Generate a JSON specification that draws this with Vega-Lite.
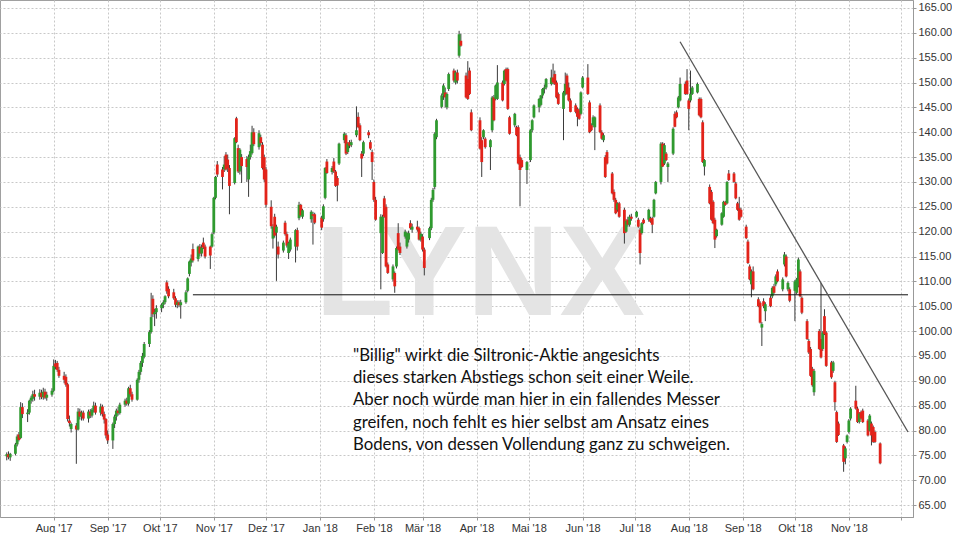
{
"$schema": "https://vega.github.io/schema/vega-lite/v6.json",
"width": 913,
"height": 517,
"padding": {"left": 0, "top": 0, "right": 0, "bottom": 0},
"background": "white",
"config": {"view": {"stroke": "#a0a0a0"}},
"datasets": {
"candles": [
{"d":"2017-07-05","o":74.8,"h":75.6,"l":74.0,"c":75.2},
{"d":"2017-07-06","o":75.2,"h":75.8,"l":74.2,"c":74.6},
{"d":"2017-07-07","o":74.6,"h":75.5,"l":73.9,"c":75.3},
{"d":"2017-07-10","o":75.3,"h":77.5,"l":75.0,"c":77.2},
{"d":"2017-07-11","o":77.2,"h":79.2,"l":76.8,"c":78.8},
{"d":"2017-07-12","o":79.2,"h":79.7,"l":77.8,"c":78.1},
{"d":"2017-07-13","o":78.5,"h":85.7,"l":78.3,"c":84.7},
{"d":"2017-07-14","o":84.7,"h":85.5,"l":82.5,"c":83.3},
{"d":"2017-07-17","o":83.3,"h":84.3,"l":81.7,"c":83.6},
{"d":"2017-07-18","o":83.6,"h":86.2,"l":83.2,"c":86.0},
{"d":"2017-07-19","o":86.0,"h":87.0,"l":85.4,"c":86.6},
{"d":"2017-07-20","o":86.4,"h":88.0,"l":85.8,"c":87.3},
{"d":"2017-07-21","o":87.3,"h":88.2,"l":86.0,"c":86.8},
{"d":"2017-07-24","o":86.8,"h":88.3,"l":86.2,"c":87.6},
{"d":"2017-07-25","o":87.6,"h":88.2,"l":86.3,"c":86.7},
{"d":"2017-07-26","o":86.7,"h":88.6,"l":86.2,"c":87.8},
{"d":"2017-07-27","o":87.8,"h":88.4,"l":86.3,"c":86.6},
{"d":"2017-07-28","o":86.6,"h":87.8,"l":86.0,"c":87.2},
{"d":"2017-07-31","o":87.2,"h":88.5,"l":86.8,"c":88.0},
{"d":"2017-08-01","o":88.0,"h":94.3,"l":87.7,"c":93.0},
{"d":"2017-08-02","o":93.5,"h":94.2,"l":92.3,"c":92.8},
{"d":"2017-08-03","o":93.6,"h":94.0,"l":91.8,"c":92.2},
{"d":"2017-08-04","o":92.2,"h":92.8,"l":90.6,"c":91.0},
{"d":"2017-08-07","o":91.0,"h":91.8,"l":89.5,"c":90.2},
{"d":"2017-08-08","o":90.8,"h":91.3,"l":88.8,"c":89.2},
{"d":"2017-08-09","o":89.3,"h":89.6,"l":81.8,"c":82.3},
{"d":"2017-08-10","o":82.0,"h":83.0,"l":80.8,"c":81.5},
{"d":"2017-08-11","o":80.3,"h":81.6,"l":79.6,"c":81.3},
{"d":"2017-08-14","o":81.0,"h":81.5,"l":73.3,"c":80.2},
{"d":"2017-08-15","o":80.2,"h":84.5,"l":80.0,"c":83.8},
{"d":"2017-08-16","o":83.8,"h":84.4,"l":82.2,"c":82.8},
{"d":"2017-08-17","o":82.8,"h":84.0,"l":82.0,"c":83.6},
{"d":"2017-08-18","o":83.6,"h":84.0,"l":82.0,"c":82.4},
{"d":"2017-08-21","o":82.4,"h":84.2,"l":81.6,"c":83.8},
{"d":"2017-08-22","o":83.8,"h":84.3,"l":82.5,"c":83.0},
{"d":"2017-08-23","o":83.0,"h":84.5,"l":82.6,"c":84.2},
{"d":"2017-08-24","o":84.2,"h":85.8,"l":83.6,"c":85.0},
{"d":"2017-08-25","o":85.0,"h":85.6,"l":83.2,"c":83.6},
{"d":"2017-08-28","o":83.6,"h":85.4,"l":83.0,"c":84.8},
{"d":"2017-08-29","o":84.8,"h":85.2,"l":82.8,"c":83.3},
{"d":"2017-08-30","o":83.3,"h":83.8,"l":81.4,"c":82.2},
{"d":"2017-08-31","o":82.3,"h":82.5,"l":78.4,"c":79.0},
{"d":"2017-09-01","o":79.2,"h":80.0,"l":77.3,"c":78.0},
{"d":"2017-09-04","o":78.0,"h":81.6,"l":76.3,"c":81.3},
{"d":"2017-09-05","o":81.3,"h":83.2,"l":80.5,"c":82.8},
{"d":"2017-09-06","o":82.8,"h":84.4,"l":82.0,"c":84.0},
{"d":"2017-09-07","o":84.0,"h":84.8,"l":83.0,"c":83.5},
{"d":"2017-09-08","o":83.5,"h":85.6,"l":83.2,"c":85.2},
{"d":"2017-09-11","o":85.2,"h":86.4,"l":84.8,"c":86.0},
{"d":"2017-09-12","o":86.0,"h":86.6,"l":85.0,"c":85.4},
{"d":"2017-09-13","o":85.4,"h":88.8,"l":85.0,"c":88.5},
{"d":"2017-09-14","o":88.5,"h":89.2,"l":86.8,"c":87.3},
{"d":"2017-09-15","o":87.3,"h":87.8,"l":85.8,"c":86.2},
{"d":"2017-09-18","o":86.2,"h":90.5,"l":86.0,"c":90.2},
{"d":"2017-09-19","o":90.2,"h":92.2,"l":89.6,"c":91.8},
{"d":"2017-09-20","o":91.8,"h":94.0,"l":91.2,"c":93.6},
{"d":"2017-09-21","o":93.6,"h":95.6,"l":92.8,"c":95.0},
{"d":"2017-09-22","o":94.8,"h":97.8,"l":94.5,"c":97.4},
{"d":"2017-09-25","o":97.4,"h":100.2,"l":96.8,"c":99.8},
{"d":"2017-09-26","o":99.8,"h":107.7,"l":99.5,"c":102.8},
{"d":"2017-09-27","o":106.5,"h":107.2,"l":102.8,"c":103.4},
{"d":"2017-09-28","o":103.4,"h":104.5,"l":101.0,"c":103.8},
{"d":"2017-09-29","o":103.8,"h":105.2,"l":102.5,"c":104.6},
{"d":"2017-10-02","o":104.6,"h":105.6,"l":103.8,"c":105.3},
{"d":"2017-10-03","o":105.3,"h":106.2,"l":104.6,"c":105.8},
{"d":"2017-10-04","o":105.8,"h":107.2,"l":105.4,"c":107.0},
{"d":"2017-10-05","o":109.8,"h":110.2,"l":107.5,"c":108.0},
{"d":"2017-10-06","o":108.5,"h":109.0,"l":106.6,"c":107.0},
{"d":"2017-10-09","o":107.8,"h":108.5,"l":106.3,"c":106.6},
{"d":"2017-10-10","o":106.6,"h":107.0,"l":104.8,"c":105.3},
{"d":"2017-10-11","o":105.3,"h":106.2,"l":104.6,"c":105.8},
{"d":"2017-10-12","o":105.8,"h":106.2,"l":104.8,"c":105.2},
{"d":"2017-10-13","o":105.2,"h":106.3,"l":102.5,"c":105.8},
{"d":"2017-10-16","o":105.8,"h":108.2,"l":105.5,"c":107.8},
{"d":"2017-10-17","o":108.1,"h":110.8,"l":107.8,"c":110.6},
{"d":"2017-10-18","o":111.5,"h":114.2,"l":111.0,"c":114.0},
{"d":"2017-10-19","o":113.8,"h":115.4,"l":113.0,"c":114.6},
{"d":"2017-10-20","o":116.5,"h":117.6,"l":113.8,"c":114.2},
{"d":"2017-10-23","o":114.5,"h":117.2,"l":114.0,"c":117.0},
{"d":"2017-10-24","o":117.0,"h":117.5,"l":115.0,"c":115.6},
{"d":"2017-10-25","o":115.6,"h":117.4,"l":115.0,"c":116.8},
{"d":"2017-10-26","o":117.8,"h":118.8,"l":116.5,"c":116.8},
{"d":"2017-10-27","o":117.0,"h":117.4,"l":114.6,"c":115.0},
{"d":"2017-10-30","o":117.0,"h":117.2,"l":112.5,"c":115.2},
{"d":"2017-10-31","o":117.0,"h":119.8,"l":116.8,"c":119.5},
{"d":"2017-11-01","o":119.8,"h":127.0,"l":119.5,"c":126.8},
{"d":"2017-11-02","o":126.8,"h":131.2,"l":126.5,"c":131.0},
{"d":"2017-11-03","o":133.5,"h":134.2,"l":131.0,"c":131.5},
{"d":"2017-11-06","o":132.5,"h":133.0,"l":128.5,"c":131.0},
{"d":"2017-11-07","o":132.5,"h":135.2,"l":132.0,"c":133.5},
{"d":"2017-11-08","o":135.5,"h":136.0,"l":132.3,"c":132.5},
{"d":"2017-11-09","o":134.5,"h":135.5,"l":132.0,"c":132.8},
{"d":"2017-11-10","o":132.8,"h":133.4,"l":123.5,"c":129.2},
{"d":"2017-11-13","o":129.8,"h":139.0,"l":129.5,"c":138.8},
{"d":"2017-11-14","o":142.8,"h":143.1,"l":137.8,"c":138.0},
{"d":"2017-11-15","o":136.8,"h":137.5,"l":131.8,"c":132.1},
{"d":"2017-11-16","o":132.1,"h":136.8,"l":131.5,"c":136.5},
{"d":"2017-11-17","o":135.0,"h":135.6,"l":129.8,"c":133.2},
{"d":"2017-11-20","o":134.6,"h":135.2,"l":130.0,"c":133.0},
{"d":"2017-11-21","o":130.5,"h":135.5,"l":127.0,"c":135.0},
{"d":"2017-11-22","o":135.0,"h":137.5,"l":134.5,"c":136.2},
{"d":"2017-11-23","o":135.8,"h":141.3,"l":135.5,"c":140.0},
{"d":"2017-11-24","o":140.0,"h":140.8,"l":137.2,"c":137.6},
{"d":"2017-11-27","o":137.0,"h":140.4,"l":136.5,"c":139.8},
{"d":"2017-11-28","o":139.0,"h":139.5,"l":137.3,"c":137.8},
{"d":"2017-11-29","o":137.5,"h":138.0,"l":132.5,"c":132.8},
{"d":"2017-11-30","o":135.0,"h":135.5,"l":130.0,"c":130.5},
{"d":"2017-12-01","o":132.5,"h":133.0,"l":124.8,"c":125.4},
{"d":"2017-12-04","o":125.0,"h":126.3,"l":120.6,"c":121.1},
{"d":"2017-12-05","o":118.6,"h":121.5,"l":116.6,"c":121.0},
{"d":"2017-12-06","o":123.0,"h":123.6,"l":118.8,"c":119.2},
{"d":"2017-12-07","o":119.8,"h":121.4,"l":110.1,"c":121.0},
{"d":"2017-12-08","o":117.0,"h":118.0,"l":114.6,"c":115.4},
{"d":"2017-12-11","o":116.2,"h":118.2,"l":115.8,"c":117.8},
{"d":"2017-12-12","o":121.8,"h":122.2,"l":119.2,"c":119.5},
{"d":"2017-12-13","o":119.5,"h":120.0,"l":116.8,"c":117.2},
{"d":"2017-12-14","o":115.7,"h":118.0,"l":114.5,"c":117.7},
{"d":"2017-12-15","o":116.4,"h":118.8,"l":116.0,"c":118.4},
{"d":"2017-12-18","o":117.0,"h":120.5,"l":113.8,"c":120.3},
{"d":"2017-12-19","o":120.3,"h":120.8,"l":116.2,"c":117.0},
{"d":"2017-12-20","o":122.7,"h":126.0,"l":122.3,"c":125.4},
{"d":"2017-12-21","o":125.4,"h":125.6,"l":123.0,"c":123.3},
{"d":"2017-12-22","o":123.0,"h":124.6,"l":122.6,"c":124.3},
{"d":"2017-12-27","o":122.5,"h":124.3,"l":121.8,"c":124.0},
{"d":"2017-12-28","o":123.5,"h":124.0,"l":117.4,"c":123.2},
{"d":"2017-12-29","o":123.5,"h":123.8,"l":121.5,"c":121.8},
{"d":"2018-01-02","o":122.8,"h":123.2,"l":120.3,"c":120.8},
{"d":"2018-01-03","o":122.5,"h":125.5,"l":122.0,"c":125.1},
{"d":"2018-01-04","o":126.8,"h":133.0,"l":126.5,"c":132.8},
{"d":"2018-01-05","o":134.1,"h":134.6,"l":131.6,"c":131.8},
{"d":"2018-01-08","o":132.0,"h":133.2,"l":131.5,"c":132.8},
{"d":"2018-01-09","o":134.1,"h":134.8,"l":131.8,"c":132.1},
{"d":"2018-01-10","o":132.1,"h":132.4,"l":129.0,"c":129.2},
{"d":"2018-01-11","o":130.8,"h":131.2,"l":126.1,"c":129.3},
{"d":"2018-01-12","o":133.7,"h":137.9,"l":133.4,"c":137.7},
{"d":"2018-01-15","o":138.4,"h":140.0,"l":137.8,"c":139.7},
{"d":"2018-01-16","o":139.4,"h":139.8,"l":135.4,"c":135.7},
{"d":"2018-01-17","o":136.0,"h":138.0,"l":135.6,"c":137.7},
{"d":"2018-01-18","o":138.0,"h":138.4,"l":136.8,"c":137.3},
{"d":"2018-01-19","o":137.4,"h":138.5,"l":137.0,"c":138.0},
{"d":"2018-01-22","o":139.4,"h":145.2,"l":139.0,"c":140.4},
{"d":"2018-01-23","o":143.1,"h":144.0,"l":140.8,"c":141.0},
{"d":"2018-01-24","o":141.4,"h":141.8,"l":138.2,"c":138.4},
{"d":"2018-01-25","o":135.7,"h":136.2,"l":131.0,"c":134.7},
{"d":"2018-01-26","o":135.7,"h":138.3,"l":135.2,"c":138.0},
{"d":"2018-01-29","o":140.0,"h":140.4,"l":138.8,"c":139.4},
{"d":"2018-01-30","o":138.0,"h":138.4,"l":136.4,"c":136.7},
{"d":"2018-01-31","o":136.0,"h":136.5,"l":130.4,"c":134.0},
{"d":"2018-02-01","o":130.0,"h":130.5,"l":126.0,"c":126.4},
{"d":"2018-02-02","o":126.4,"h":127.0,"l":122.2,"c":122.4},
{"d":"2018-02-05","o":119.7,"h":123.5,"l":108.4,"c":123.0},
{"d":"2018-02-06","o":115.7,"h":123.4,"l":115.5,"c":123.0},
{"d":"2018-02-07","o":126.7,"h":127.2,"l":122.8,"c":123.0},
{"d":"2018-02-08","o":125.0,"h":125.5,"l":112.8,"c":113.0},
{"d":"2018-02-09","o":113.4,"h":113.8,"l":111.5,"c":111.7},
{"d":"2018-02-12","o":110.4,"h":113.4,"l":110.0,"c":113.0},
{"d":"2018-02-13","o":111.7,"h":112.0,"l":107.7,"c":109.0},
{"d":"2018-02-14","o":113.0,"h":117.0,"l":112.6,"c":116.7},
{"d":"2018-02-15","o":119.7,"h":121.7,"l":116.2,"c":116.4},
{"d":"2018-02-16","o":117.0,"h":117.8,"l":115.3,"c":115.7},
{"d":"2018-02-19","o":119.0,"h":120.4,"l":118.6,"c":120.0},
{"d":"2018-02-20","o":117.0,"h":120.0,"l":116.6,"c":119.7},
{"d":"2018-02-21","o":118.4,"h":120.2,"l":117.8,"c":119.7},
{"d":"2018-02-22","o":121.7,"h":122.3,"l":120.4,"c":120.7},
{"d":"2018-02-23","o":120.4,"h":121.6,"l":119.8,"c":121.0},
{"d":"2018-02-26","o":121.0,"h":122.2,"l":120.0,"c":120.4},
{"d":"2018-02-27","o":120.7,"h":121.0,"l":118.2,"c":118.4},
{"d":"2018-02-28","o":118.4,"h":120.0,"l":118.0,"c":119.6},
{"d":"2018-03-01","o":119.0,"h":119.5,"l":116.0,"c":116.4},
{"d":"2018-03-02","o":116.4,"h":116.8,"l":111.2,"c":112.7},
{"d":"2018-03-05","o":118.7,"h":121.0,"l":118.3,"c":120.7},
{"d":"2018-03-06","o":120.7,"h":126.8,"l":120.3,"c":126.4},
{"d":"2018-03-07","o":126.4,"h":128.8,"l":126.0,"c":128.4},
{"d":"2018-03-08","o":129.0,"h":140.0,"l":128.5,"c":139.7},
{"d":"2018-03-09","o":139.0,"h":142.7,"l":138.6,"c":142.4},
{"d":"2018-03-12","o":145.1,"h":147.8,"l":144.8,"c":147.4},
{"d":"2018-03-13","o":147.4,"h":149.8,"l":146.5,"c":149.4},
{"d":"2018-03-14","o":148.0,"h":149.0,"l":145.0,"c":147.0},
{"d":"2018-03-15","o":145.0,"h":148.0,"l":144.6,"c":147.7},
{"d":"2018-03-16","o":148.7,"h":152.0,"l":148.3,"c":151.7},
{"d":"2018-03-19","o":152.4,"h":152.8,"l":150.0,"c":150.4},
{"d":"2018-03-20","o":150.0,"h":152.4,"l":149.6,"c":152.0},
{"d":"2018-03-21","o":152.0,"h":152.6,"l":149.8,"c":150.4},
{"d":"2018-03-22","o":155.4,"h":160.4,"l":155.0,"c":159.7},
{"d":"2018-03-23","o":158.4,"h":159.8,"l":157.2,"c":157.4},
{"d":"2018-03-26","o":151.4,"h":152.0,"l":146.8,"c":147.0},
{"d":"2018-03-27","o":150.7,"h":154.3,"l":146.5,"c":146.7},
{"d":"2018-03-28","o":152.4,"h":153.0,"l":147.5,"c":147.7},
{"d":"2018-03-29","o":144.0,"h":144.6,"l":140.2,"c":140.4},
{"d":"2018-04-03","o":142.4,"h":143.0,"l":136.5,"c":136.7},
{"d":"2018-04-04","o":138.4,"h":139.0,"l":131.0,"c":134.0},
{"d":"2018-04-05","o":139.0,"h":140.6,"l":138.6,"c":140.4},
{"d":"2018-04-06","o":138.7,"h":139.0,"l":136.7,"c":137.0},
{"d":"2018-04-09","o":137.0,"h":138.6,"l":132.4,"c":138.4},
{"d":"2018-04-10","o":140.4,"h":147.3,"l":140.0,"c":147.0},
{"d":"2018-04-11","o":147.0,"h":147.5,"l":142.2,"c":142.4},
{"d":"2018-04-12","o":146.7,"h":149.6,"l":146.4,"c":149.4},
{"d":"2018-04-13","o":146.7,"h":153.5,"l":146.5,"c":150.0},
{"d":"2018-04-16","o":150.0,"h":150.4,"l":146.2,"c":146.4},
{"d":"2018-04-17","o":149.7,"h":152.6,"l":149.4,"c":152.4},
{"d":"2018-04-18","o":152.7,"h":153.0,"l":150.2,"c":150.4},
{"d":"2018-04-19","o":152.7,"h":153.0,"l":144.5,"c":144.7},
{"d":"2018-04-20","o":143.0,"h":143.3,"l":139.5,"c":139.7},
{"d":"2018-04-23","o":141.4,"h":143.9,"l":141.0,"c":143.7},
{"d":"2018-04-24","o":141.0,"h":141.3,"l":139.2,"c":139.4},
{"d":"2018-04-25","o":141.0,"h":141.4,"l":133.5,"c":133.7},
{"d":"2018-04-26","o":135.0,"h":135.5,"l":125.1,"c":132.4},
{"d":"2018-04-27","o":134.4,"h":134.8,"l":132.8,"c":133.0},
{"d":"2018-04-30","o":132.4,"h":134.2,"l":129.6,"c":134.0},
{"d":"2018-05-02","o":134.4,"h":140.6,"l":134.0,"c":140.4},
{"d":"2018-05-03","o":140.4,"h":142.6,"l":140.0,"c":142.4},
{"d":"2018-05-04","o":143.0,"h":145.6,"l":142.8,"c":145.4},
{"d":"2018-05-07","o":145.0,"h":146.9,"l":144.0,"c":146.7},
{"d":"2018-05-08","o":145.5,"h":147.5,"l":145.2,"c":147.4},
{"d":"2018-05-09","o":147.4,"h":148.9,"l":146.8,"c":148.7},
{"d":"2018-05-10","o":148.7,"h":149.6,"l":147.8,"c":149.0},
{"d":"2018-05-11","o":149.0,"h":150.9,"l":148.6,"c":150.7},
{"d":"2018-05-14","o":149.7,"h":152.6,"l":149.4,"c":151.0},
{"d":"2018-05-15","o":151.0,"h":153.8,"l":149.6,"c":150.0},
{"d":"2018-05-16","o":151.7,"h":152.4,"l":149.5,"c":149.7},
{"d":"2018-05-17","o":150.0,"h":150.4,"l":146.8,"c":147.0},
{"d":"2018-05-18","o":147.7,"h":148.0,"l":145.5,"c":145.7},
{"d":"2018-05-21","o":144.7,"h":148.3,"l":138.4,"c":148.0},
{"d":"2018-05-22","o":147.7,"h":152.0,"l":147.4,"c":149.7},
{"d":"2018-05-23","o":151.4,"h":151.8,"l":147.5,"c":147.7},
{"d":"2018-05-24","o":149.0,"h":150.0,"l":146.2,"c":146.4},
{"d":"2018-05-25","o":146.4,"h":146.8,"l":144.0,"c":144.1},
{"d":"2018-05-28","o":145.4,"h":145.8,"l":143.8,"c":144.1},
{"d":"2018-05-29","o":144.7,"h":145.0,"l":141.2,"c":143.1},
{"d":"2018-05-30","o":144.4,"h":144.8,"l":142.5,"c":142.7},
{"d":"2018-05-31","o":143.7,"h":148.2,"l":143.4,"c":148.0},
{"d":"2018-06-01","o":149.0,"h":151.3,"l":148.8,"c":151.0},
{"d":"2018-06-04","o":151.0,"h":153.7,"l":147.5,"c":147.7},
{"d":"2018-06-05","o":146.0,"h":146.4,"l":139.8,"c":140.0},
{"d":"2018-06-06","o":141.4,"h":141.8,"l":140.2,"c":140.4},
{"d":"2018-06-07","o":141.4,"h":143.4,"l":141.0,"c":143.0},
{"d":"2018-06-08","o":141.0,"h":143.2,"l":136.4,"c":143.0},
{"d":"2018-06-11","o":145.4,"h":145.8,"l":139.8,"c":140.0},
{"d":"2018-06-12","o":140.0,"h":140.4,"l":138.5,"c":138.7},
{"d":"2018-06-13","o":138.4,"h":139.8,"l":138.0,"c":139.4},
{"d":"2018-06-14","o":135.0,"h":135.4,"l":130.8,"c":131.0},
{"d":"2018-06-15","o":136.0,"h":136.4,"l":133.5,"c":133.7},
{"d":"2018-06-18","o":131.7,"h":132.0,"l":127.5,"c":127.7},
{"d":"2018-06-19","o":128.0,"h":128.5,"l":126.0,"c":126.4},
{"d":"2018-06-20","o":126.4,"h":126.8,"l":123.5,"c":123.7},
{"d":"2018-06-21","o":124.4,"h":125.9,"l":124.0,"c":125.7},
{"d":"2018-06-22","o":125.7,"h":126.0,"l":122.8,"c":123.0},
{"d":"2018-06-25","o":124.4,"h":124.8,"l":117.6,"c":119.7},
{"d":"2018-06-26","o":120.0,"h":122.5,"l":119.8,"c":122.2},
{"d":"2018-06-27","o":122.4,"h":123.0,"l":121.0,"c":121.4},
{"d":"2018-06-28","o":121.4,"h":123.4,"l":121.0,"c":123.0},
{"d":"2018-06-29","o":123.0,"h":123.6,"l":122.2,"c":122.6},
{"d":"2018-07-02","o":123.0,"h":124.2,"l":122.8,"c":124.0},
{"d":"2018-07-03","o":122.4,"h":122.8,"l":120.8,"c":121.0},
{"d":"2018-07-04","o":120.4,"h":120.8,"l":113.4,"c":115.7},
{"d":"2018-07-05","o":119.7,"h":121.9,"l":119.4,"c":121.7},
{"d":"2018-07-06","o":122.4,"h":122.7,"l":121.5,"c":121.7},
{"d":"2018-07-09","o":122.4,"h":124.6,"l":122.0,"c":124.4},
{"d":"2018-07-10","o":122.7,"h":123.0,"l":121.8,"c":122.0},
{"d":"2018-07-11","o":122.7,"h":123.0,"l":119.7,"c":121.4},
{"d":"2018-07-12","o":123.0,"h":126.6,"l":122.8,"c":126.4},
{"d":"2018-07-13","o":127.7,"h":130.2,"l":127.5,"c":130.0},
{"d":"2018-07-16","o":130.0,"h":138.0,"l":129.5,"c":137.7},
{"d":"2018-07-17","o":137.7,"h":138.0,"l":133.0,"c":133.1},
{"d":"2018-07-18","o":133.7,"h":137.8,"l":133.4,"c":137.4},
{"d":"2018-07-19","o":135.7,"h":136.0,"l":134.2,"c":134.4},
{"d":"2018-07-20","o":133.0,"h":134.0,"l":130.0,"c":133.7},
{"d":"2018-07-23","o":135.7,"h":141.0,"l":135.4,"c":140.7},
{"d":"2018-07-24","o":143.7,"h":144.2,"l":141.0,"c":141.1},
{"d":"2018-07-25","o":144.0,"h":144.4,"l":142.8,"c":143.0},
{"d":"2018-07-26","o":145.0,"h":147.3,"l":144.8,"c":147.0},
{"d":"2018-07-27","o":146.4,"h":151.0,"l":146.2,"c":149.7},
{"d":"2018-07-30","o":149.7,"h":150.2,"l":147.5,"c":147.7},
{"d":"2018-07-31","o":150.4,"h":152.7,"l":147.5,"c":147.7},
{"d":"2018-08-01","o":146.4,"h":146.8,"l":140.4,"c":144.7},
{"d":"2018-08-02","o":146.4,"h":152.4,"l":146.0,"c":147.7},
{"d":"2018-08-03","o":147.7,"h":149.3,"l":147.5,"c":149.0},
{"d":"2018-08-06","o":148.0,"h":150.0,"l":147.8,"c":149.7},
{"d":"2018-08-07","o":146.7,"h":147.0,"l":143.2,"c":143.4},
{"d":"2018-08-08","o":146.7,"h":147.0,"l":142.8,"c":143.0},
{"d":"2018-08-09","o":142.0,"h":142.4,"l":133.8,"c":134.0},
{"d":"2018-08-10","o":133.1,"h":134.6,"l":131.3,"c":134.4},
{"d":"2018-08-13","o":129.0,"h":129.5,"l":125.5,"c":125.7},
{"d":"2018-08-14","o":128.0,"h":128.4,"l":122.2,"c":122.4},
{"d":"2018-08-15","o":126.0,"h":126.3,"l":121.5,"c":121.7},
{"d":"2018-08-16","o":122.4,"h":122.8,"l":116.7,"c":118.4},
{"d":"2018-08-17","o":119.1,"h":120.6,"l":118.8,"c":120.4},
{"d":"2018-08-20","o":121.4,"h":123.9,"l":121.2,"c":123.7},
{"d":"2018-08-21","o":123.0,"h":126.2,"l":122.8,"c":126.0},
{"d":"2018-08-22","o":126.0,"h":126.2,"l":125.2,"c":125.4},
{"d":"2018-08-23","o":125.7,"h":130.2,"l":125.5,"c":130.0},
{"d":"2018-08-24","o":131.7,"h":132.4,"l":130.2,"c":130.4},
{"d":"2018-08-27","o":131.7,"h":132.0,"l":129.8,"c":130.0},
{"d":"2018-08-28","o":129.7,"h":130.0,"l":126.5,"c":126.7},
{"d":"2018-08-29","o":125.7,"h":126.0,"l":124.2,"c":124.4},
{"d":"2018-08-30","o":124.7,"h":127.0,"l":122.2,"c":122.4},
{"d":"2018-08-31","o":124.4,"h":124.8,"l":122.8,"c":123.0},
{"d":"2018-09-03","o":121.0,"h":121.4,"l":118.5,"c":118.7},
{"d":"2018-09-04","o":118.0,"h":118.4,"l":113.5,"c":113.7},
{"d":"2018-09-05","o":113.0,"h":113.4,"l":110.2,"c":110.4},
{"d":"2018-09-06","o":109.4,"h":112.4,"l":106.8,"c":112.0},
{"d":"2018-09-07","o":112.0,"h":113.0,"l":108.2,"c":108.4},
{"d":"2018-09-10","o":106.4,"h":106.8,"l":104.8,"c":105.0},
{"d":"2018-09-11","o":105.7,"h":106.0,"l":101.5,"c":101.7},
{"d":"2018-09-12","o":100.7,"h":101.8,"l":97.0,"c":101.4},
{"d":"2018-09-13","o":106.0,"h":106.6,"l":104.6,"c":105.0},
{"d":"2018-09-14","o":104.0,"h":105.8,"l":102.0,"c":105.4},
{"d":"2018-09-17","o":106.7,"h":107.2,"l":104.8,"c":105.0},
{"d":"2018-09-18","o":107.0,"h":109.0,"l":106.6,"c":108.7},
{"d":"2018-09-19","o":109.0,"h":109.5,"l":107.5,"c":107.7},
{"d":"2018-09-20","o":109.4,"h":111.4,"l":109.0,"c":111.0},
{"d":"2018-09-21","o":112.0,"h":112.4,"l":109.8,"c":110.0},
{"d":"2018-09-24","o":108.4,"h":110.8,"l":108.0,"c":110.4},
{"d":"2018-09-25","o":113.4,"h":115.9,"l":113.0,"c":115.4},
{"d":"2018-09-26","o":115.0,"h":115.4,"l":110.8,"c":111.0},
{"d":"2018-09-27","o":108.4,"h":110.0,"l":108.0,"c":109.7},
{"d":"2018-09-28","o":108.4,"h":108.8,"l":105.8,"c":106.1},
{"d":"2018-10-01","o":108.1,"h":110.3,"l":102.0,"c":110.0},
{"d":"2018-10-02","o":107.7,"h":110.7,"l":107.4,"c":110.4},
{"d":"2018-10-03","o":109.1,"h":114.8,"l":108.8,"c":114.4},
{"d":"2018-10-04","o":112.0,"h":112.4,"l":106.8,"c":107.0},
{"d":"2018-10-05","o":106.7,"h":107.0,"l":103.4,"c":103.7},
{"d":"2018-10-08","o":102.0,"h":102.4,"l":98.2,"c":98.4},
{"d":"2018-10-09","o":98.0,"h":98.4,"l":95.4,"c":95.7},
{"d":"2018-10-10","o":96.4,"h":96.8,"l":90.8,"c":91.0},
{"d":"2018-10-11","o":92.4,"h":92.8,"l":88.8,"c":89.1},
{"d":"2018-10-12","o":87.7,"h":92.4,"l":87.0,"c":92.0},
{"d":"2018-10-15","o":100.0,"h":100.4,"l":96.2,"c":96.4},
{"d":"2018-10-16","o":98.4,"h":109.7,"l":94.5,"c":94.7},
{"d":"2018-10-17","o":96.4,"h":100.0,"l":96.0,"c":99.7},
{"d":"2018-10-18","o":103.0,"h":104.4,"l":99.2,"c":99.4},
{"d":"2018-10-19","o":99.7,"h":100.0,"l":92.8,"c":93.0},
{"d":"2018-10-22","o":93.7,"h":94.0,"l":90.4,"c":90.7},
{"d":"2018-10-23","o":92.0,"h":94.0,"l":91.6,"c":93.7},
{"d":"2018-10-24","o":89.7,"h":90.0,"l":84.0,"c":85.7},
{"d":"2018-10-25","o":83.7,"h":84.0,"l":77.5,"c":77.7},
{"d":"2018-10-26","o":81.4,"h":81.8,"l":78.9,"c":79.1},
{"d":"2018-10-29","o":77.0,"h":77.3,"l":71.7,"c":73.7},
{"d":"2018-10-30","o":74.4,"h":76.8,"l":73.2,"c":76.4},
{"d":"2018-10-31","o":77.7,"h":79.2,"l":77.4,"c":79.0},
{"d":"2018-11-01","o":79.7,"h":82.3,"l":79.4,"c":82.0},
{"d":"2018-11-02","o":82.4,"h":84.7,"l":82.0,"c":84.4},
{"d":"2018-11-05","o":86.0,"h":89.0,"l":84.2,"c":84.4},
{"d":"2018-11-06","o":84.4,"h":84.8,"l":81.5,"c":81.7},
{"d":"2018-11-07","o":81.7,"h":83.7,"l":81.4,"c":83.4},
{"d":"2018-11-08","o":83.7,"h":84.0,"l":82.2,"c":82.4},
{"d":"2018-11-09","o":84.0,"h":84.4,"l":81.5,"c":81.7},
{"d":"2018-11-12","o":82.0,"h":82.3,"l":78.8,"c":79.0},
{"d":"2018-11-13","o":80.0,"h":83.3,"l":79.8,"c":83.0},
{"d":"2018-11-14","o":81.4,"h":81.8,"l":77.0,"c":79.0},
{"d":"2018-11-15","o":80.7,"h":81.0,"l":77.5,"c":77.7},
{"d":"2018-11-16","o":79.7,"h":80.0,"l":77.5,"c":77.7},
{"d":"2018-11-19","o":77.4,"h":77.6,"l":73.2,"c":73.4}
],
"watermark": [{"d":"2018-04-03","p":103.3,"t":"LYNX"}],
"support": [{"d":"2017-10-20","d2":"2018-12-05","p":107.3}],
"trend": [{"d":"2018-07-27","p":158.2},{"d":"2018-12-05","p":79.7}],
"note": [{"d":"2018-01-20","p":94.0,"t":"\"Billig\" wirkt die Siltronic-Aktie angesichts\ndieses starken Abstiegs schon seit einer Weile.\nAber noch würde man hier in ein fallendes Messer\ngreifen, noch fehlt es hier selbst am Ansatz eines\nBodens, von dessen Vollendung ganz zu schweigen."}]
},
"layer": [
{
"data": {"name": "watermark"},
"mark": {"type": "text", "font": "Liberation Sans", "fontWeight": "bold", "fontSize": 128, "color": "#e4e4e4", "align": "center", "baseline": "alphabetic"},
"encoding": {
"x": {"field": "d", "type": "temporal", "title": null,
"scale": {"type": "utc", "domain": [{"year": 2017, "month": 7, "date": 4, "utc": true}, {"year": 2018, "month": 12, "date": 5, "utc": true}], "nice": false},
"axis": {
"values": [
{"year": 2017, "month": 8, "date": 1, "utc": true},
{"year": 2017, "month": 9, "date": 1, "utc": true},
{"year": 2017, "month": 10, "date": 1, "utc": true},
{"year": 2017, "month": 11, "date": 1, "utc": true},
{"year": 2017, "month": 12, "date": 1, "utc": true},
{"year": 2018, "month": 1, "date": 1, "utc": true},
{"year": 2018, "month": 2, "date": 1, "utc": true},
{"year": 2018, "month": 3, "date": 1, "utc": true},
{"year": 2018, "month": 4, "date": 1, "utc": true},
{"year": 2018, "month": 5, "date": 1, "utc": true},
{"year": 2018, "month": 6, "date": 1, "utc": true},
{"year": 2018, "month": 7, "date": 1, "utc": true},
{"year": 2018, "month": 8, "date": 1, "utc": true},
{"year": 2018, "month": 9, "date": 1, "utc": true},
{"year": 2018, "month": 10, "date": 1, "utc": true},
{"year": 2018, "month": 11, "date": 1, "utc": true},
{"year": 2018, "month": 12, "date": 1, "utc": true}
],
"tickCount": 40,
"labelExpr": "datum.value >= utc(2018,11,1) ? '' : ['Jan','Feb','Mär','Apr','Mai','Jun','Jul','Aug','Sep','Okt','Nov','Dez'][utcmonth(datum.value)] + \" '\" + utcFormat(datum.value, '%y')",
"grid": true, "gridColor": "#c8c8c8", "gridDash": [2, 2], "gridWidth": 1,
"domainColor": "#999999", "tickColor": "#999999", "tickSize": 3,
"labelFont": "Liberation Sans", "labelFontSize": 11, "labelColor": "#333333", "labelPadding": 2, "labelFlush": false, "labelOverlap": false
}
},
"y": {"field": "p", "type": "quantitative", "title": null,
"scale": {"domain": [62.6, 166.6], "nice": false, "zero": false},
"axis": {
"orient": "right",
"values": [65, 70, 75, 80, 85, 90, 95, 100, 105, 110, 115, 120, 125, 130, 135, 140, 145, 150, 155, 160, 165],
"tickCount": 40,
"format": ".2f",
"grid": true, "gridColor": "#c8c8c8", "gridDash": [2, 2], "gridWidth": 1,
"domainColor": "#999999", "tickColor": "#999999", "tickSize": 3,
"labelFont": "Liberation Sans", "labelFontSize": 11, "labelColor": "#333333", "labelPadding": 2, "labelOverlap": false, "labelBound": false
}
},
"text": {"field": "t"}
}
},
{
"data": {"name": "candles"},
"mark": {"type": "rule", "color": "#3a3a3a", "strokeWidth": 1},
"encoding": {
"x": {"field": "d", "type": "temporal", "title": null},
"y": {"field": "l", "type": "quantitative", "title": null},
"y2": {"field": "h"}
}
},
{
"data": {"name": "candles"},
"mark": {"type": "bar", "size": 2.8},
"encoding": {
"x": {"field": "d", "type": "temporal", "title": null},
"y": {"field": "o", "type": "quantitative", "title": null},
"y2": {"field": "c"},
"color": {"condition": {"test": "datum.c >= datum.o", "value": "#2f9a2f"}, "value": "#e2231a"}
}
},
{
"data": {"name": "support"},
"mark": {"type": "rule", "color": "#111111", "strokeWidth": 1},
"encoding": {
"x": {"field": "d", "type": "temporal", "title": null},
"x2": {"field": "d2"},
"y": {"field": "p", "type": "quantitative", "title": null}
}
},
{
"data": {"name": "trend"},
"mark": {"type": "line", "color": "#555555", "strokeWidth": 1.3},
"encoding": {
"x": {"field": "d", "type": "temporal", "title": null},
"y": {"field": "p", "type": "quantitative", "title": null}
}
},
{
"data": {"name": "note"},
"mark": {"type": "text", "font": "Lato", "fontSize": 16.8, "color": "#111111", "align": "left", "baseline": "alphabetic", "lineBreak": "\n", "lineHeight": 22.3},
"encoding": {
"x": {"field": "d", "type": "temporal", "title": null},
"y": {"field": "p", "type": "quantitative", "title": null},
"text": {"field": "t"}
}
}
]
}
